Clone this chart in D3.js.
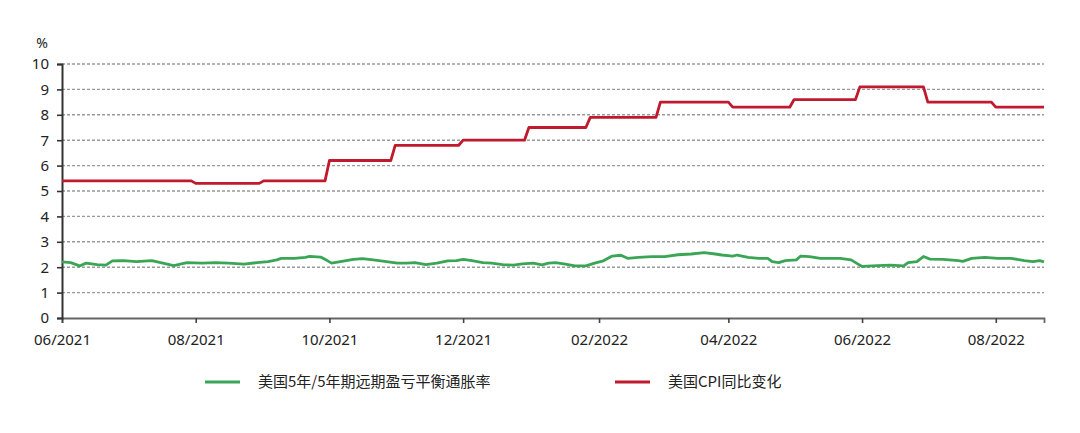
<!DOCTYPE html>
<html lang="zh">
<head>
<meta charset="UTF-8">
<title>美国通胀预期与CPI</title>
<script src="https://d3js.org/d3.v7.min.js"></script>
<style>
    body { margin: 0; background: #fff; }
    svg text { font-family: "Noto Sans", "Noto Sans CJK SC", sans-serif; fill: #222; }
    .legend text { font-family: "Noto Sans CJK SC", "Noto Sans", sans-serif; }
</style>
</head>
<body>
<div id="chart"></div>
<script>
    // CPI yoy: date each new level starts, and the level
    const cpiDates = ["2021-06-01", "2021-08-01", "2021-09-01", "2021-10-01", "2021-10-31", "2021-12-01",
        "2021-12-31", "2022-01-28", "2022-03-01", "2022-04-03", "2022-05-01", "2022-05-31", "2022-07-01",
        "2022-08-01"];
    const cpiValues = [5.4, 5.3, 5.4, 6.2, 6.8, 7.0, 7.5, 7.9, 8.5, 8.3, 8.6, 9.1, 8.5, 8.3];

    // 5y5y forward breakeven
    const beDates = ["2021-06-01", "2021-06-05", "2021-06-09", "2021-06-12", "2021-06-17", "2021-06-21",
        "2021-06-24", "2021-06-29", "2021-07-05", "2021-07-12", "2021-07-16", "2021-07-22", "2021-07-28",
        "2021-08-04", "2021-08-10", "2021-08-16", "2021-08-23", "2021-08-29", "2021-09-03", "2021-09-07",
        "2021-09-09", "2021-09-15", "2021-09-20", "2021-09-22", "2021-09-27", "2021-09-30", "2021-10-02",
        "2021-10-06", "2021-10-12", "2021-10-16", "2021-10-21", "2021-10-27", "2021-11-01", "2021-11-05",
        "2021-11-09", "2021-11-14", "2021-11-19", "2021-11-24", "2021-11-28", "2021-12-01", "2021-12-05",
        "2021-12-10", "2021-12-14", "2021-12-19", "2021-12-24", "2021-12-28", "2022-01-02", "2022-01-06",
        "2022-01-09", "2022-01-12", "2022-01-16", "2022-01-21", "2022-01-26", "2022-01-30", "2022-02-03",
        "2022-02-07", "2022-02-11", "2022-02-14", "2022-02-19", "2022-02-25", "2022-03-03", "2022-03-09",
        "2022-03-15", "2022-03-21", "2022-03-26", "2022-03-29", "2022-04-03", "2022-04-05", "2022-04-10",
        "2022-04-15", "2022-04-19", "2022-04-21", "2022-04-24", "2022-04-27", "2022-05-02", "2022-05-04",
        "2022-05-08", "2022-05-13", "2022-05-17", "2022-05-22", "2022-05-27", "2022-05-30", "2022-06-01",
        "2022-06-08", "2022-06-14", "2022-06-20", "2022-06-22", "2022-06-26", "2022-06-29", "2022-07-02",
        "2022-07-08", "2022-07-15", "2022-07-17", "2022-07-21", "2022-07-27", "2022-08-02", "2022-08-08",
        "2022-08-14", "2022-08-18", "2022-08-21", "2022-08-23"];
    const beValues = [2.21, 2.18, 2.05, 2.16, 2.10, 2.08,
        2.25, 2.26, 2.22, 2.26, 2.18, 2.06, 2.18,
        2.16, 2.18, 2.16, 2.12, 2.18, 2.22, 2.29,
        2.35, 2.35, 2.39, 2.43, 2.40, 2.26, 2.16,
        2.22, 2.31, 2.34, 2.29, 2.22, 2.16, 2.16,
        2.18, 2.10, 2.16, 2.25, 2.26, 2.31, 2.26,
        2.18, 2.16, 2.10, 2.08, 2.13, 2.16, 2.09,
        2.16, 2.18, 2.13, 2.05, 2.05, 2.16, 2.25,
        2.44, 2.47, 2.35, 2.39, 2.42, 2.42, 2.49,
        2.52, 2.57, 2.52, 2.48, 2.44, 2.48, 2.39,
        2.35, 2.35, 2.22, 2.18, 2.26, 2.29, 2.44,
        2.42, 2.35, 2.35, 2.35, 2.29, 2.13, 2.03,
        2.06, 2.08, 2.05, 2.18, 2.22, 2.42, 2.32,
        2.31, 2.26, 2.23, 2.35, 2.39, 2.35, 2.35,
        2.26, 2.22, 2.26, 2.21];

    const xTicks = ["2021-06", "2021-08", "2021-10", "2021-12", "2022-02", "2022-04", "2022-06", "2022-08"];
    const yTicks = [0, 1, 2, 3, 4, 5, 6, 7, 8, 9, 10];
    const seriesNames = ["美国5年/5年期远期盈亏平衡通胀率", "美国CPI同比变化"];
    const seriesColors = ["#3aa655", "#c01a2e"];
    const endDate = "2022-08-23";

    const w = 1080;
    const h = 433;
    const plotLeft = 62, plotRight = 1044, plotTop = 64, plotBottom = 318;

    const parseDay = d3.timeParse("%Y-%m-%d");
    const parseMonth = d3.timeParse("%Y-%m");

    const xScale = d3.scaleTime()
        .domain([parseDay(cpiDates[0]), parseDay(endDate)])
        .range([plotLeft, plotRight]);
    const yScale = d3.scaleLinear()
        .domain([0, 10])
        .range([plotBottom, plotTop]);

    const svg = d3.select("#chart")
        .append("svg")
        .attr("width", w)
        .attr("height", h);

    // dashed grid
    svg.append("g")
        .selectAll("line")
        .data(yTicks.filter(d => d > 0))
        .enter()
        .append("line")
        .attr("x1", plotLeft)
        .attr("x2", plotRight)
        .attr("y1", d => yScale(d))
        .attr("y2", d => yScale(d))
        .attr("stroke", "#999")
        .attr("stroke-width", 1.4)
        .attr("stroke-dasharray", "3,2");

    // x axis
    const xAxis = d3.axisBottom(xScale)
        .tickValues(xTicks.map(parseMonth))
        .tickFormat(d3.timeFormat("%m/%Y"))
        .tickSizeOuter(0)
        .tickSize(5)
        .tickPadding(11);
    const gx = svg.append("g")
        .attr("transform", "translate(0," + plotBottom + ")")
        .call(xAxis);
    gx.select(".domain").attr("stroke", "#666").attr("stroke-width", 1.8);
    gx.selectAll(".tick line").attr("stroke", "#444").attr("stroke-width", 1.6);
    gx.selectAll("text").style("font-size", "15px").attr("fill", "#1a1a1a");

    // y axis
    const yAxis = d3.axisLeft(yScale)
        .tickValues(yTicks)
        .tickFormat(d3.format("d"))
        .tickSizeOuter(0)
        .tickSize(5)
        .tickPadding(8);
    const gy = svg.append("g")
        .attr("transform", "translate(" + plotLeft + ",0)")
        .call(yAxis);
    gy.select(".domain").attr("stroke", "#333").attr("stroke-width", 2);
    gy.selectAll(".tick line").attr("stroke", "#333").attr("stroke-width", 1.6);
    gy.selectAll("text").style("font-size", "15px").attr("fill", "#1a1a1a");

    svg.append("text")
        .attr("x", 42)
        .attr("y", 48)
        .attr("text-anchor", "middle")
        .style("font-size", "14px")
        .text("%");

    // CPI step points: flat at each level, short ramp into the next one
    const cpiPoints = [];
    cpiDates.forEach((d, i) => {
        cpiPoints.push([parseDay(d), cpiValues[i]]);
        const until = i < cpiDates.length - 1
            ? d3.timeDay.offset(parseDay(cpiDates[i + 1]), -2)
            : parseDay(endDate);
        cpiPoints.push([until, cpiValues[i]]);
    });
    const bePoints = beDates.map((d, i) => [parseDay(d), beValues[i]]);

    const line = d3.line()
        .x(d => xScale(d[0]))
        .y(d => yScale(d[1]));

    svg.append("path")
        .datum(bePoints)
        .attr("fill", "none")
        .attr("stroke", seriesColors[0])
        .attr("stroke-width", 2.8)
        .attr("stroke-linejoin", "round")
        .attr("d", line);

    svg.append("path")
        .datum(cpiPoints)
        .attr("fill", "none")
        .attr("stroke", seriesColors[1])
        .attr("stroke-width", 2.8)
        .attr("stroke-linejoin", "round")
        .attr("d", line);

    // legend
    const legendX = [205, 615];
    const legend = svg.append("g").attr("class", "legend");
    seriesNames.forEach((name, i) => {
        legend.append("line")
            .attr("x1", legendX[i])
            .attr("x2", legendX[i] + 35)
            .attr("y1", 382)
            .attr("y2", 382)
            .attr("stroke", seriesColors[i])
            .attr("stroke-width", 2.8);
        legend.append("text")
            .attr("x", legendX[i] + 53)
            .attr("y", 387)
            .style("font-size", "15px")
            .text(name);
    });
</script>
</body>
</html>
